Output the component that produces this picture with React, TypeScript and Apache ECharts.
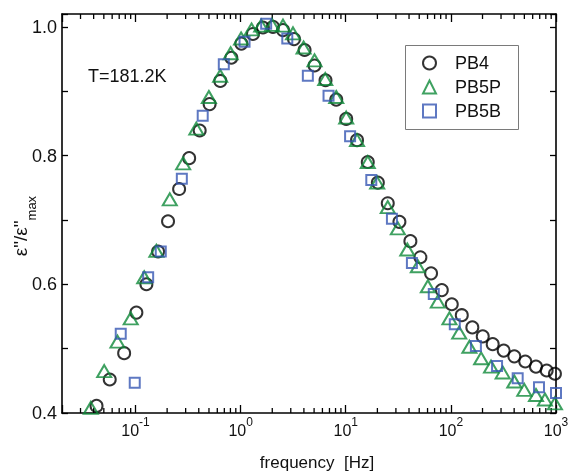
import React, { useEffect, useRef } from 'react';
import * as echarts from 'echarts';

// PB4 (circles)
const pb4Freq = [0.0426, 0.0569, 0.078, 0.102, 0.127, 0.164, 0.204, 0.26, 0.324, 0.408, 0.507, 0.641, 0.816, 1.016, 1.31, 1.63, 2.03, 2.53, 3.22, 4.06, 5.05, 6.42, 8.12, 10.1, 12.8, 16.2, 20.2, 25.1, 32.4, 41.2, 51.3, 64.8, 82.0, 102, 127, 160, 201, 250, 318, 401, 510, 645, 815, 977];
const pb4Val = [0.411, 0.452, 0.493, 0.556, 0.600, 0.651, 0.698, 0.748, 0.796, 0.839, 0.880, 0.916, 0.952, 0.974, 0.989, 0.999, 1.0, 0.995, 0.981, 0.964, 0.940, 0.917, 0.887, 0.857, 0.824, 0.790, 0.758, 0.726, 0.697, 0.667, 0.642, 0.617, 0.591, 0.569, 0.552, 0.533, 0.519, 0.507, 0.497, 0.488, 0.480, 0.472, 0.466, 0.461];

// PB5P (triangles)
const pb5pFreq = [0.0376, 0.0504, 0.0674, 0.0901, 0.121, 0.158, 0.212, 0.284, 0.379, 0.499, 0.639, 0.803, 1.01, 1.27, 1.57, 1.99, 2.53, 3.15, 3.97, 5.05, 6.38, 8.12, 10.1, 12.8, 16.2, 19.9, 25.1, 31.3, 38.5, 48.5, 60.4, 75.1, 96.9, 120, 150, 194, 241, 311, 401, 499, 645, 785, 977];
const pb5pVal = [0.408, 0.465, 0.511, 0.547, 0.611, 0.652, 0.732, 0.788, 0.842, 0.891, 0.924, 0.959, 0.982, 0.996, 1.002, 1.003, 1.002, 0.990, 0.968, 0.948, 0.919, 0.891, 0.859, 0.824, 0.790, 0.758, 0.720, 0.687, 0.654, 0.628, 0.597, 0.573, 0.547, 0.525, 0.503, 0.485, 0.472, 0.463, 0.449, 0.436, 0.428, 0.421, 0.415];

// PB5B (squares)
const pb5bFreq = [0.0724, 0.0984, 0.132, 0.174, 0.276, 0.436, 0.692, 1.09, 1.75, 2.78, 4.36, 6.86, 11.0, 17.5, 27.5, 42.6, 68.8, 109, 173, 275, 432, 689, 1000];
const pb5bVal = [0.523, 0.447, 0.611, 0.651, 0.764, 0.862, 0.942, 0.977, 1.005, 0.982, 0.924, 0.893, 0.830, 0.762, 0.702, 0.633, 0.585, 0.538, 0.504, 0.473, 0.454, 0.440, 0.431];

const seriesNames = ['PB4', 'PB5P', 'PB5B'];
const minorTickFreqs = [
  0.03, 0.04, 0.05, 0.06, 0.07, 0.08, 0.09,
  0.2, 0.3, 0.4, 0.5, 0.6, 0.7, 0.8, 0.9,
  2, 3, 4, 5, 6, 7, 8, 9,
  20, 30, 40, 50, 60, 70, 80, 90,
  200, 300, 400, 500, 600, 700, 800, 900,
];
const xMin = 0.02;
const xMax = 1000;
const yMin = 0.4;
const yMax = 1.02;
const yTickStep = 0.1;

export default function App() {
  const ref = useRef<HTMLDivElement>(null);
  useEffect(() => {
    const chart = echarts.init(ref.current!, null, { renderer: 'svg' });
    const font = "'Liberation Sans', Arial, Helvetica, sans-serif";
    const ink = '#111';
    const zip = (f: number[], v: number[]) => f.map((x, i) => [x, v[i]]);
    const axisLine = { show: true, onZero: false, lineStyle: { color: '#000', width: 1.6 } };
    const xLabel = (v: number) => {
      const e = Math.log10(v);
      const r = Math.round(e);
      if (Math.abs(e - r) > 1e-6) return '';
      return `{b|10}{s|${r}}`;
    };
    const yLabel = (v: number) => {
      const k = Math.round(v * 10);
      if (Math.abs(v * 10 - k) > 1e-6 || k % 2 !== 0) return '';
      return (k / 10).toFixed(1);
    };
    const xCommon = {
      type: 'log',
      logBase: 10,
      min: xMin,
      max: xMax,
      axisLine,
      axisTick: { show: true, inside: true, length: 8, lineStyle: { color: '#000', width: 1.3 } },
      splitLine: { show: false },
      minorTick: { show: false },
    };
    const yCommon = {
      type: 'value',
      min: yMin,
      max: yMax,
      interval: yTickStep,
      axisLine,
      axisTick: { show: true, inside: true, length: 6, lineStyle: { color: '#000', width: 1.3 } },
      splitLine: { show: false },
    };
    const option: any = {
      animation: false,
      textStyle: { fontFamily: font },
      grid: { left: 62, top: 14, right: 14, bottom: 60, containLabel: false, outerBoundsMode: 'none' },
      xAxis: [
        {
          ...xCommon,
          position: 'bottom',
          axisLabel: {
            show: true,
            margin: 3,
            formatter: xLabel,
            color: ink,
            hideOverlap: false,
            rich: {
              b: { fontSize: 16, lineHeight: 22, verticalAlign: 'bottom', color: ink, fontFamily: font },
              s: { fontSize: 12, lineHeight: 10, verticalAlign: 'top', color: ink, fontFamily: font },
            },
          },
        },
        { ...xCommon, position: 'top', axisLabel: { show: false } },
      ],
      yAxis: [
        {
          ...yCommon,
          position: 'left',
          axisLabel: { show: true, margin: 5, formatter: yLabel, fontSize: 18, color: ink, fontFamily: font },
        },
        { ...yCommon, position: 'right', axisLabel: { show: false } },
      ],
      legend: {
        orient: 'vertical',
        left: 422,
        top: 54,
        padding: 0,
        itemWidth: 13,
        itemHeight: 13,
        itemGap: 6,
        selectedMode: false,
        data: seriesNames,
        textStyle: { fontSize: 18, lineHeight: 18, color: ink, fontFamily: font, padding: [0, 0, 0, 14] },
      },
      graphic: [
        {
          type: 'rect',
          shape: { x: 405.5, y: 45.5, width: 113, height: 84 },
          style: { fill: 'none', stroke: '#7a7a7a', lineWidth: 1 },
          z: 1,
        },
        {
          type: 'text',
          x: 88,
          y: 76,
          style: { text: 'T=181.2K', fontSize: 18, fontFamily: font, fill: ink, align: 'left', verticalAlign: 'middle' },
        },
        {
          type: 'text',
          x: 317,
          y: 462,
          style: { text: 'frequency  [Hz]', fontSize: 17, fontFamily: font, fill: ink, align: 'center', verticalAlign: 'middle' },
        },
        {
          type: 'text',
          x: 31,
          y: 226,
          rotation: Math.PI / 2,
          style: {
            text: '{m|ε"/ε"}{sub|max}',
            align: 'center',
            verticalAlign: 'middle',
            fill: ink,
            rich: {
              m: { fontSize: 19, lineHeight: 19, verticalAlign: 'top', fill: ink, fontFamily: font },
              sub: { fontSize: 13, lineHeight: 40, verticalAlign: 'middle', fill: ink, fontFamily: font },
            },
          },
        },
      ],
      series: [
        {
          name: seriesNames[0],
          type: 'scatter',
          data: zip(pb4Freq, pb4Val),
          symbol: 'circle',
          symbolSize: 12,
          itemStyle: { color: 'rgba(0,0,0,0)', borderColor: '#000', borderWidth: 2 },
          z: 3,
        },
        {
          name: seriesNames[1],
          type: 'scatter',
          data: zip(pb5pFreq, pb5pVal),
          symbol: 'triangle',
          symbolSize: [14, 12],
          itemStyle: { color: 'rgba(0,0,0,0)', borderColor: '#0f8a3a', borderWidth: 2 },
          z: 4,
        },
        {
          name: seriesNames[2],
          type: 'scatter',
          data: zip(pb5bFreq, pb5bVal),
          symbol: 'rect',
          symbolSize: 10,
          itemStyle: { color: 'rgba(0,0,0,0)', borderColor: '#3656b3', borderWidth: 2 },
          z: 5,
        },
        {
          name: 'minorTicks',
          type: 'custom',
          silent: true,
          data: minorTickFreqs.map((f) => [f, yMin]),
          renderItem: (_p: any, api: any) => {
            const f = api.value(0);
            const b = api.coord([f, yMin]);
            const t = api.coord([f, yMax]);
            return {
              type: 'group',
              children: [
                { type: 'line', shape: { x1: b[0], y1: b[1], x2: b[0], y2: b[1] - 5 }, style: { stroke: '#000', lineWidth: 1.3 } },
                { type: 'line', shape: { x1: t[0], y1: t[1], x2: t[0], y2: t[1] + 5 }, style: { stroke: '#000', lineWidth: 1.3 } },
              ],
            };
          },
          z: 2,
        },
      ],
    };
    chart.setOption(option);
    return () => chart.dispose();
  }, []);
  return <div ref={ref} style={{ position: 'fixed', left: 0, top: 0, width: 570, height: 473 }} />;
}
